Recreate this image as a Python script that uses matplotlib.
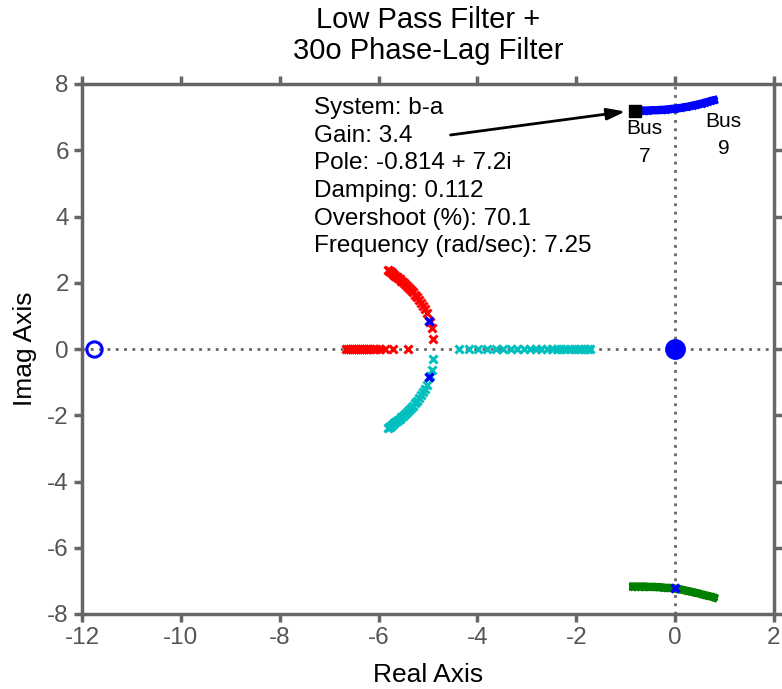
import numpy as np
import matplotlib.pyplot as plt

plt.rcParams['font.family'] = ['Liberation Sans', 'DejaVu Sans']
plt.rcParams['axes.unicode_minus'] = False

# root locus branches (real, imag)
red_arc_re = [-5.80, -5.78, -5.76, -5.74, -5.72, -5.70, -5.68, -5.66, -5.63, -5.60, -5.57, -5.54, -5.50,
              -5.46, -5.42, -5.38, -5.34, -5.30, -5.26, -5.22, -5.18, -5.14, -5.10, -5.06, -5.02, -4.96, -4.92, -4.90]
red_arc_im = [2.38, 2.36, 2.34, 2.31, 2.29, 2.27, 2.24, 2.21, 2.18, 2.14, 2.10, 2.06, 2.01,
              1.96, 1.90, 1.84, 1.78, 1.71, 1.64, 1.56, 1.48, 1.40, 1.30, 1.20, 1.08, 0.82, 0.62, 0.30]
red_real = [-6.66, -6.62, -6.58, -6.54, -6.50, -6.46, -6.42, -6.38, -6.34, -6.30, -6.26, -6.22,
            -6.17, -6.12, -6.05, -5.97, -5.88, -5.70, -5.40]

cyan_arc_re = [-5.80, -5.78, -5.76, -5.74, -5.72, -5.70, -5.68, -5.66, -5.63, -5.60, -5.57, -5.54, -5.50,
               -5.46, -5.42, -5.38, -5.34, -5.30, -5.26, -5.22, -5.18, -5.14, -5.10, -5.06, -5.02, -4.96, -4.92, -4.90]
cyan_arc_im = [-2.38, -2.36, -2.34, -2.31, -2.29, -2.27, -2.24, -2.21, -2.18, -2.14, -2.10, -2.06, -2.01,
               -1.96, -1.90, -1.84, -1.78, -1.71, -1.64, -1.56, -1.48, -1.40, -1.30, -1.20, -1.08, -0.82, -0.62, -0.30]
cyan_real = [-4.38, -4.18, -3.98, -3.80, -3.63, -3.48, -3.33, -3.19, -3.06, -2.94, -2.82, -2.71,
             -2.60, -2.50, -2.40, -2.31, -2.22, -2.13, -2.05, -1.97, -1.90, -1.83, -1.77, -1.73]

blue_re = [-0.78, -0.72, -0.66, -0.60, -0.54, -0.48, -0.42, -0.36, -0.30, -0.24, -0.18, -0.12, -0.06, 0.00,
           0.06, 0.12, 0.18, 0.24, 0.30, 0.36, 0.42, 0.48, 0.54, 0.60, 0.66, 0.72, 0.78]
blue_im = [7.20, 7.20, 7.20, 7.20, 7.20, 7.21, 7.21, 7.21, 7.22, 7.22, 7.23, 7.24, 7.25, 7.26,
           7.27, 7.28, 7.30, 7.31, 7.33, 7.35, 7.37, 7.39, 7.41, 7.44, 7.46, 7.49, 7.51]
green_re = [-0.85, -0.79, -0.72, -0.66, -0.60, -0.54, -0.48, -0.42, -0.36, -0.30, -0.24, -0.18, -0.12, -0.06, 0.00,
            0.06, 0.12, 0.18, 0.24, 0.30, 0.36, 0.42, 0.48, 0.54, 0.60, 0.66, 0.72, 0.78]
green_im = [-7.17, -7.17, -7.17, -7.17, -7.17, -7.18, -7.18, -7.18, -7.19, -7.19, -7.20, -7.21, -7.21, -7.22, -7.23,
            -7.25, -7.26, -7.28, -7.30, -7.32, -7.34, -7.36, -7.38, -7.41, -7.43, -7.45, -7.47, -7.50]

# open loop poles / zeros
pole_re = [-4.98, -4.98, 0.0]
pole_im = [0.85, -0.85, -7.22]
zero_re = [-11.75]
zero_im = [0.0]
origin_re = [0.0]
origin_im = [0.0]

tip_re, tip_im = -0.814, 7.2
tip_text = ("System: b-a\nGain: 3.4\nPole: -0.814 + 7.2i\nDamping: 0.112\n"
            "Overshoot (%): 70.1\nFrequency (rad/sec): 7.25")

fig = plt.figure(figsize=(7.82, 6.89), dpi=100)
ax = fig.add_axes([82/782, 1 - 614/689, 692/782, 530/689])

grey = '#666666'
ax.axhline(0, color=grey, ls=(0, (1, 2)), lw=2, zorder=1)
ax.axvline(0, color=grey, ls=(0, (1, 2)), lw=2, zorder=1)

mk = dict(ls='none', marker='x', ms=5.5, mew=2.2, zorder=3)
ax.plot(red_arc_re, red_arc_im, color='#ff0000', **mk)
ax.plot(red_real, np.zeros(len(red_real)), color='#ff0000', **mk)
ax.plot(cyan_arc_re, cyan_arc_im, color='#00bfbf', **mk)
ax.plot(cyan_real, np.zeros(len(cyan_real)), color='#00bfbf', **mk)
ax.plot(blue_re, blue_im, color='#0000ff', ls='-', lw=6, marker='x', ms=5, mew=2, zorder=3)
ax.plot(green_re, green_im, color='#008000', ls='-', lw=6, marker='x', ms=5, mew=2, zorder=3)
ax.plot(pole_re, pole_im, color='#0000ff', ls='none', marker='x', ms=6, mew=2.5, zorder=4)
ax.plot(zero_re, zero_im, color='#0000ff', ls='none', marker='o', ms=11, mfc='none', mew=2.2, zorder=4)
ax.plot(origin_re, origin_im, color='#0000ff', ls='none', marker='o', ms=13, mfc='#0000ff', mew=2, zorder=4)

ax.plot([tip_re], [tip_im], color='black', ls='none', marker='s', ms=9, zorder=5)
ax.annotate('', xy=(-0.95, 7.18), xytext=(-4.6, 6.45),
            arrowprops=dict(arrowstyle='-|>,head_length=1.1,head_width=0.35', color='black', lw=2))
ax.text(-7.3, 7.6, tip_text, fontsize=17.5, va='top', ha='left', linespacing=1.33)
ax.text(-0.62, 6.22, 'Bus\n7', fontsize=15, ha='center', va='center', linespacing=1.6)
ax.text(0.98, 6.46, 'Bus\n9', fontsize=15, ha='center', va='center', linespacing=1.5)

ax.set_xlim(-12, 2)
ax.set_ylim(-8, 8)
ax.set_xticks(np.arange(-12, 3, 2))
ax.set_yticks(np.arange(-8, 9, 2))
for s in ax.spines.values():
    s.set_color(grey)
    s.set_linewidth(2.5)
ax.tick_params(direction='out', length=6, width=2.5, color=grey, labelcolor='#555555',
               labelsize=17.5, top=True, right=True)
ax.set_xlabel('Real Axis', fontsize=19, labelpad=10)
ax.set_ylabel('Imag Axis', fontsize=19, labelpad=7)
ax.set_title('Low Pass Filter +\n30o Phase-Lag Filter', fontsize=21, pad=18, linespacing=1.15)

fig.savefig('out.png', dpi=100)
